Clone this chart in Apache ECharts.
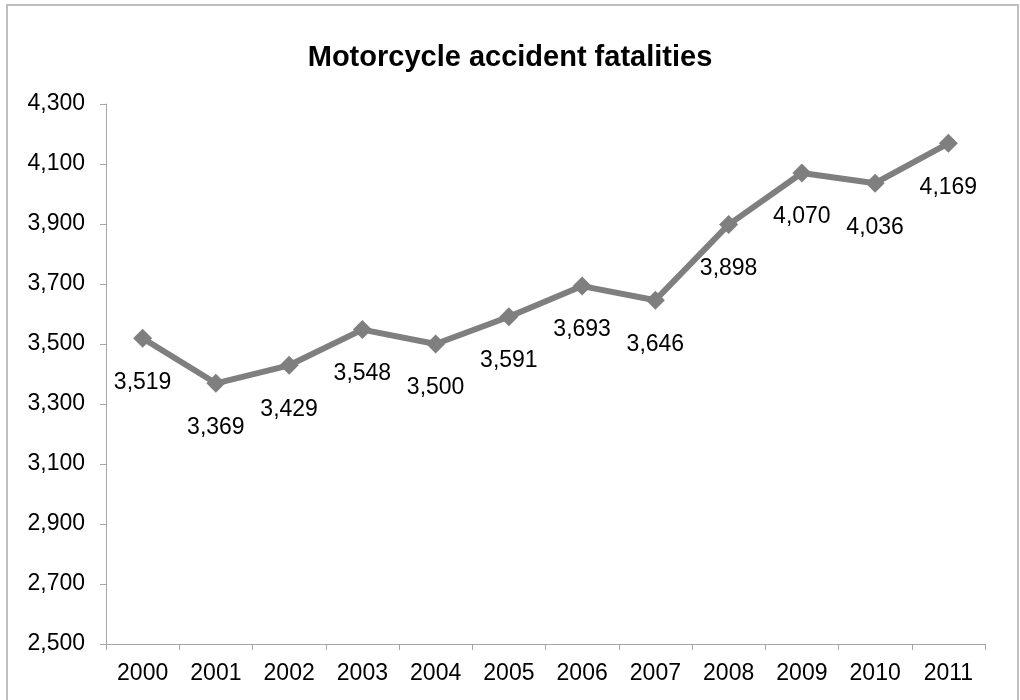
<!DOCTYPE html>
<html>
<head>
<meta charset="utf-8">
<script src="https://cdn.jsdelivr.net/npm/echarts@6/dist/echarts.min.js"></script>
<style>
  html, body { margin: 0; padding: 0; background: #fff; }
  #chart { width: 1020px; height: 700px; }
</style>
</head>
<body>
<div id="chart"></div>
<script>
// data
const years = ['2000', '2001', '2002', '2003', '2004', '2005', '2006', '2007', '2008', '2009', '2010', '2011'];
const fatalities = [3519, 3369, 3429, 3548, 3500, 3591, 3693, 3646, 3898, 4070, 4036, 4169];
const yMin = 2500;
const yMax = 4300;
const yStep = 200;

const fontFamily = '"Liberation Sans", Arial, sans-serif';
const fmt = (v) => v.toLocaleString('en-US');

const chart = echarts.init(document.getElementById('chart'));

const option = {
  animation: false,
  backgroundColor: '#fff',
  textStyle: { fontFamily: fontFamily },
  title: {
    text: 'Motorcycle accident fatalities',
    left: 'center',
    top: 38,
    textStyle: { fontSize: 29, fontWeight: 'bold', color: '#000', fontFamily: fontFamily },
  },
  graphic: [
    {
      type: 'rect',
      shape: { x: 7, y: 5, width: 1011, height: 705 },
      style: { fill: 'none', stroke: '#bfbfbf', lineWidth: 2 },
      silent: true,
    },
  ],
  grid: {
    left: 106,
    right: 35,
    top: 104,
    bottom: 56,
  },
  xAxis: {
    type: 'category',
    data: years,
    boundaryGap: true,
    axisLine: { lineStyle: { color: '#a6a6a6', width: 1 } },
    axisTick: { show: true, length: 6, alignWithLabel: false, lineStyle: { color: '#a6a6a6' } },
    axisLabel: { color: '#000', fontSize: 23, margin: 18, fontFamily: fontFamily },
    splitLine: { show: false },
  },
  yAxis: {
    type: 'value',
    min: yMin,
    max: yMax,
    interval: yStep,
    axisLine: { show: true, lineStyle: { color: '#a6a6a6', width: 1 } },
    axisTick: { show: true, length: 6, lineStyle: { color: '#a6a6a6' } },
    axisLabel: { color: '#000', fontSize: 23, margin: 21, formatter: (v) => fmt(v), fontFamily: fontFamily },
    splitLine: { show: false },
  },
  series: [
    {
      name: 'Fatalities',
      type: 'line',
      data: fatalities,
      symbol: 'diamond',
      symbolSize: 19,
      lineStyle: { color: '#7f7f7f', width: 6 },
      itemStyle: { color: '#7f7f7f' },
      label: {
        show: true,
        position: 'bottom',
        distance: 23,
        color: '#000',
        fontSize: 23,
        fontFamily: fontFamily,
        formatter: (p) => fmt(p.value),
      },
    },
  ],
};

chart.setOption(option);
</script>
</body>
</html>
